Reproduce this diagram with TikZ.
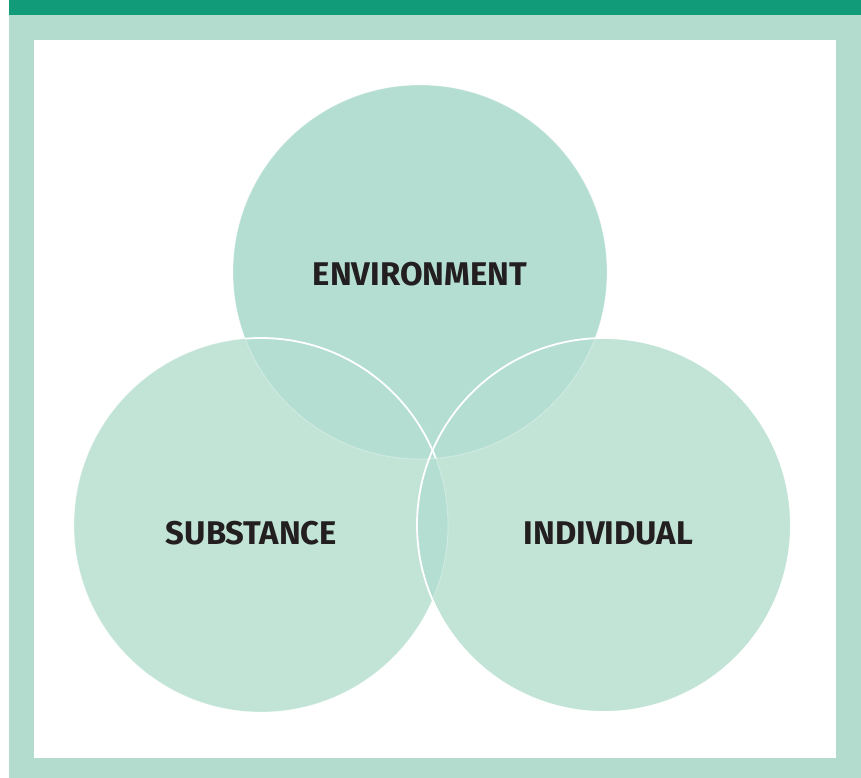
\documentclass[tikz,border=0pt]{standalone}
\usepackage{fontspec}
\setmainfont{Fira Sans}
\definecolor{barGreen}{HTML}{129B78}
\definecolor{frameGreen}{HTML}{B3DCCF}
\definecolor{envFill}{HTML}{B4DED2}
\definecolor{lowFill}{HTML}{C2E4D7}
\definecolor{labelInk}{HTML}{231F20}
\tikzset{
  lbl/.style={font=\fontsize{32.8}{38}\selectfont\bfseries, text=labelInk, inner sep=0pt},
  rim/.style={draw=white, line width=1.8pt},
  faintrim/.style={draw=white, draw opacity=0.35, line width=0.8pt}
}
\begin{document}
\begin{tikzpicture}[x=1pt,y=-1pt]
\useasboundingbox (0,0) rectangle (861,778);
\fill[white] (0,0) rectangle (861,778);
% frame
\fill[frameGreen] (9,15) rectangle (861,778);
\fill[barGreen] (9,0) rectangle (861,15);
\fill[white] (34,40) rectangle (836,758);
% circle centres
\coordinate (cE) at (420,272);
\coordinate (cS) at (261,525);
\coordinate (cI) at (604,525);
\def\rr{187}
% lower circles
\fill[lowFill] (cS) circle (\rr);
\fill[lowFill] (cI) circle (\rr);
\begin{scope}
  \clip (cS) circle (\rr);
  \fill[envFill] (cI) circle (\rr);
\end{scope}
% environment circle
\fill[envFill] (cE) circle (\rr);
% faint rims
\draw[faintrim] (cE) circle (\rr);
\draw[faintrim] (cS) circle (\rr);
% white rims
\begin{scope}
  \clip (cE) circle (\rr);
  \draw[rim] (cS) circle (\rr);
\end{scope}
\draw[rim] (cI) circle (\rr);
% labels
\node[lbl] (env) at (420,274) {ENVIRONMENT};
\node[lbl] (sub) at (251.5,533) {SUBSTANCE};
\node[lbl] (ind) at (608.5,533) {INDIVIDUAL};
\end{tikzpicture}
\end{document}
